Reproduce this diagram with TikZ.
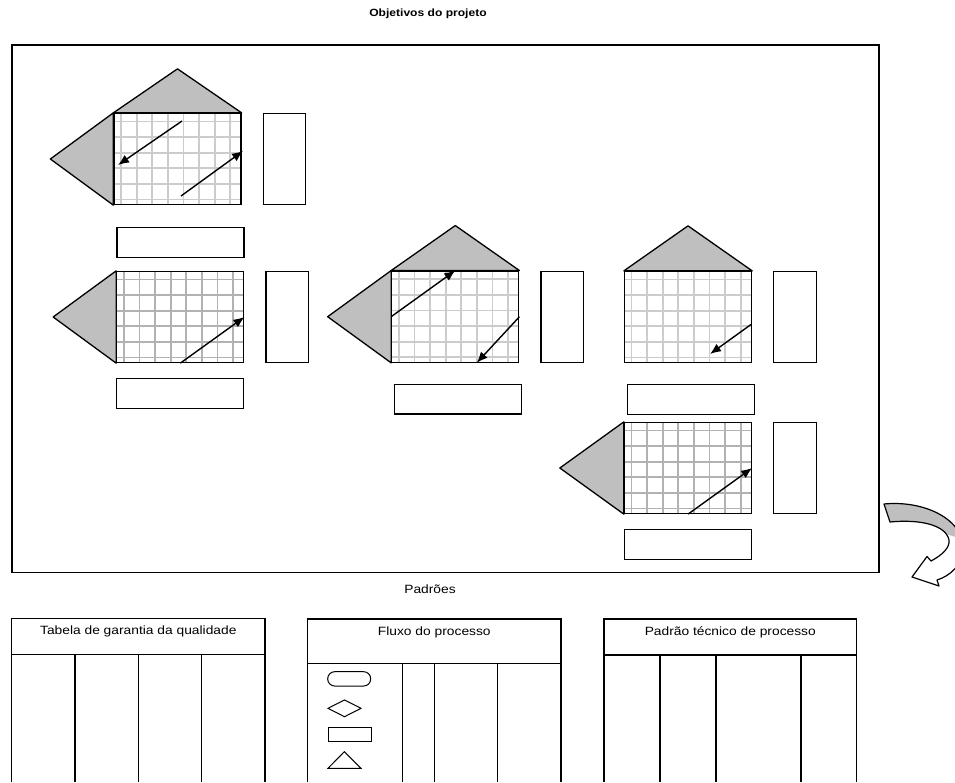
\documentclass[tikz,border=0pt]{standalone}
\usepackage{fontspec}
\setmainfont{Liberation Sans}[FakeStretch=1.15]
\usetikzlibrary{calc, positioning, arrows.meta}

\begin{document}
\begin{tikzpicture}[x=1pt, y=-1pt, >=Latex,
    grade/.style={draw, line width=1.3pt, fill=white, inner sep=0pt,
      minimum width=127pt, minimum height=91pt,
      path picture={
        \foreach \k in {0,...,7}
          \draw[#1, line width=1.8pt] ($(path picture bounding box.north west)+(7+15.6*\k,-2)$) -- ++(0,100);
        \foreach \k in {0,...,5}
          \draw[#1, line width=1.8pt] ($(path picture bounding box.north west)+(-2,8+15.6*\k)$) -- ++(135,0);
      }},
    telhado/.style={fill=black!25, draw, line width=1.3pt, line join=round},
    caixav/.style={draw, line width=1.3pt, inner sep=0pt, minimum width=42.5pt, minimum height=91pt},
    caixah/.style={draw, line width=1.3pt, inner sep=0pt, minimum width=127pt, minimum height=29.5pt},
    seta/.style={-{Latex[length=11pt,width=9pt]}, line width=1.4pt},
    tabela/.style={line width=1.3pt},
    simbolo/.style={line width=1pt},
    rotulo/.style={font=\fontsize{12}{14}\selectfont, inner sep=0pt}]
  \useasboundingbox (0,0) rectangle (955,782);
  \fill[white] (0,0) rectangle (955,782);
  % titulo e moldura
  \node[font=\fontsize{10.5}{13}\selectfont\bfseries, inner sep=0pt] (titulo) at (428,14) {Objetivos do projeto};
  \draw[line width=1.5pt] (12,45) rectangle (879,572.7);
  % casa 1
  \node[grade=gray!40] (g1) at (177.5,159) {};
  \filldraw[telhado] (g1.north west) -- ($(g1.north)+(0,-44)$) -- (g1.north east) -- cycle;
  \filldraw[telhado] (g1.north west) -- ($(g1.west)+(-63,0)$) -- (g1.south west) -- cycle;
  \node[caixav, right=21pt of g1] (v1) {};
  \node[caixah, below=22pt of g1, xshift=3pt] (h1) {};
  \coordinate (a1i) at (182,121);
  \coordinate (a1f) at (118,165);
  \coordinate (b1i) at (181,196);
  \coordinate (b1f) at (243,151);
  \draw[seta] (a1i) -- (a1f);
  \draw[seta] (b1i) -- (b1f);
  % casa 2
  \node[grade=gray!60] (g2) at (180.3,317) {};
  \filldraw[telhado] (g2.north west) -- ($(g2.west)+(-63,0)$) -- (g2.south west) -- cycle;
  \node[caixav, right=21pt of g2] (v2) {};
  \node[caixah, below=15pt of g2] (h2) {};
  \draw[seta] (g2.south) -- (g2.east);
  % casa 3
  \node[grade=gray!40] (g3) at (455.3,316.7) {};
  \filldraw[telhado] (g3.north west) -- ($(g3.north)+(0,-45)$) -- (g3.north east) -- cycle;
  \filldraw[telhado] (g3.north west) -- ($(g3.west)+(-63.5,0)$) -- (g3.south west) -- cycle;
  \node[caixav, right=21pt of g3] (v3) {};
  \node[caixah, below=21pt of g3, xshift=3pt] (h3) {};
  \coordinate (a3f) at ($(g3.south)+(21.4,0)$);
  \draw[seta] (g3.west) -- (g3.north);
  \draw[seta] (g3.east) -- (a3f);
  % casa 4
  \node[grade=gray!40] (g4) at (688,317) {};
  \filldraw[telhado] (g4.north west) -- ($(g4.north)+(0,-45)$) -- (g4.north east) -- cycle;
  \node[caixav, right=21pt of g4] (v4) {};
  \node[caixah, below=21pt of g4, xshift=3pt] (h4) {};
  \coordinate (a4i) at (751.7,324);
  \coordinate (a4f) at (710,354);
  \draw[seta] (a4i) -- (a4f);
  % casa 5
  \node[grade=gray!60] (g5) at (688,468) {};
  \filldraw[telhado] (g5.north west) -- ($(g5.west)+(-64,0)$) -- (g5.south west) -- cycle;
  \node[caixav, right=21pt of g5] (v5) {};
  \node[caixah, below=15pt of g5] (h5) {};
  \draw[seta] (g5.south) -- (g5.east);
  % seta curva
  \begin{scope}
    \clip (0,0) rectangle (955,782);
    \path[save path=\curva] (884,504) .. controls (925,500) and (965,520) .. (963,550)
      .. controls (962,565) and (950,576) .. (937,580) -- (939,586) -- (912,577)
      -- (927,556.5) -- (931,561) .. controls (942,555) and (950,548) .. (949,540)
      .. controls (946,525) and (920,519) .. (890,522) -- cycle;
    \fill[white, use path=\curva];
    \begin{scope}
      \clip[use path=\curva];
      \fill[black!25] (878,495) -- (965,495) -- (965,540) -- (940,532) -- (878,530) -- cycle;
    \end{scope}
    \draw[line width=1.2pt, line join=round, use path=\curva];
  \end{scope}
  \node[rotulo] (padroes) at (430,589) {Padrões};
  % tabelas
  \foreach \xl/\xr/\yt/\yh in {11.7/265/618.3/654.3, 307.3/561/619/663.3, 604/856.7/619/655} {
    \draw[tabela] (\xl,782) |- (\xr,\yt) -- (\xr,782);
    \draw[tabela] (\xl,\yh) -- (\xr,\yh);
  }
  \foreach \x/\yh in {75/654.3, 138.3/654.3, 201.7/654.3, 402.3/663.3, 434.3/663.3, 497.7/663.3, 660/655, 716/655, 801/655}
    \draw[tabela] (\x,\yh) -- (\x,782);
  \node[rotulo] (tab1) at (138.3,631.7) {Tabela de garantia da qualidade};
  \node[rotulo] (tab2) at (434.3,632.3) {Fluxo do processo};
  \node[rotulo] (tab3) at (730.3,632.3) {Padrão técnico de processo};
  % simbolos do fluxo
  \draw[simbolo, rounded corners=7pt] (327.7,671.7) rectangle (370.7,686);
  \draw[simbolo] (328,708.3) -- (344.5,700) -- (361,708.3) -- (344.5,716.7) -- cycle;
  \draw[simbolo] (328.3,727.3) rectangle (371,741.7);
  \draw[simbolo] (328,768.3) -- (344.3,751.7) -- (361,768.3) -- cycle;
\end{tikzpicture}
\end{document}
